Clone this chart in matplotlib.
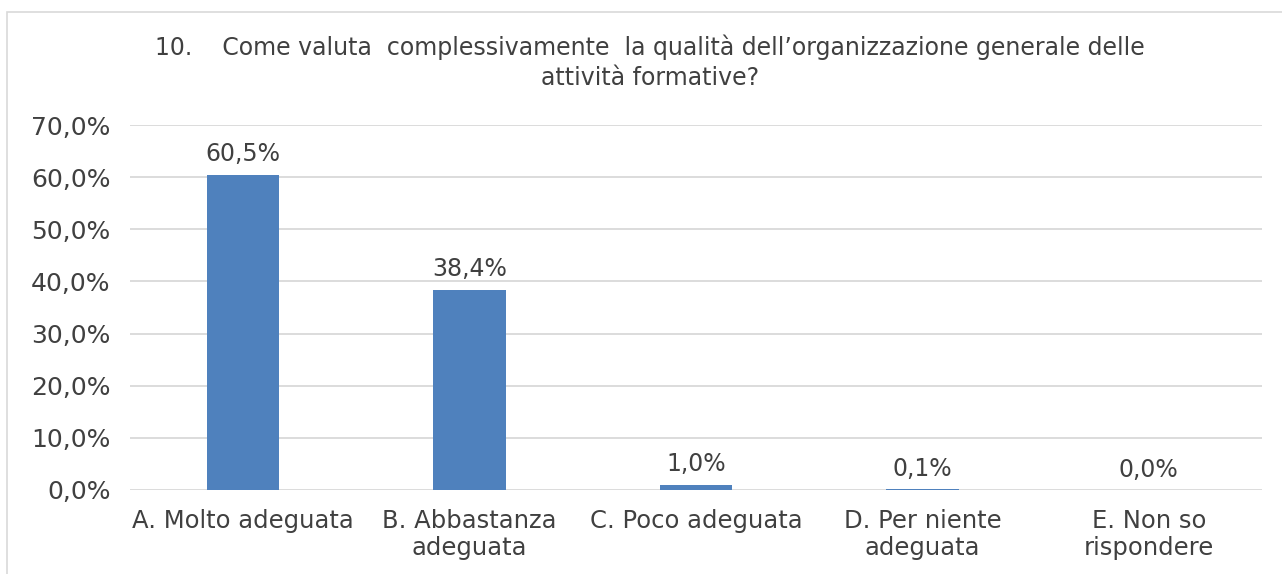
import matplotlib.pyplot as plt
from matplotlib.patches import Rectangle

categorie = ['A. Molto adeguata', 'B. Abbastanza\nadeguata', 'C. Poco adeguata',
             'D. Per niente\nadeguata', 'E. Non so\nrispondere']
valori = [60.5, 38.4, 1.0, 0.1, 0.0]
etichette = ['60,5%', '38,4%', '1,0%', '0,1%', '0,0%']
tick_y = [0, 10, 20, 30, 40, 50, 60, 70]
tick_y_lab = ['0,0%', '10,0%', '20,0%', '30,0%', '40,0%', '50,0%', '60,0%', '70,0%']

grigio = '#404040'
blu = '#4F81BD'

W, H = 1282, 574
fig = plt.figure(figsize=(W / 100, H / 100), dpi=100)
fig.patches.append(Rectangle((7 / W, -0.1), 1.2, 1 - 12 / H + 0.1, transform=fig.transFigure,
                             fill=False, edgecolor='#D9D9D9', linewidth=1.2))

ax = fig.add_axes([130 / W, 1 - 490 / H, (1262 - 130) / W, (490 - 125) / H])
x = range(len(categorie))
ax.bar(x, valori, width=0.32, color=blu, zorder=3)
for i, v in enumerate(valori):
    ax.text(i, v + 1.6, etichette[i], ha='center', va='bottom', fontsize=17, color=grigio)

ax.set_xlim(-0.5, len(categorie) - 0.5)
ax.set_ylim(0, 70)
ax.set_yticks(tick_y)
ax.set_yticklabels(tick_y_lab, fontsize=18, color=grigio)
ax.set_xticks(list(x))
ax.set_xticklabels(categorie, fontsize=17.5, color=grigio, linespacing=1.15)
ax.tick_params(length=0)
ax.tick_params(axis='x', pad=14)
ax.tick_params(axis='y', pad=14)
ax.yaxis.grid(True, color='#D9D9D9', linewidth=1.3, zorder=0)
for s in ax.spines.values():
    s.set_visible(False)

fig.text(650 / W, 1 - 62 / H,
         '10.    Come valuta  complessivamente  la qualità dell\u2019organizzazione generale delle\nattività formative?',
         ha='center', va='center', fontsize=17, color=grigio, linespacing=1.3)

fig.savefig('out.png', dpi=100)
